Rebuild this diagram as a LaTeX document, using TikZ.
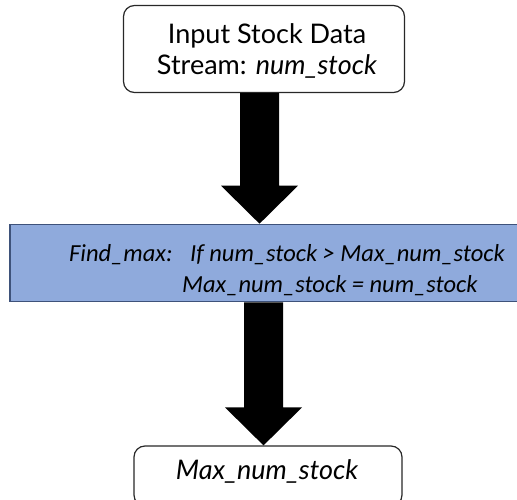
\documentclass[tikz,border=0pt]{standalone}
\usepackage{fontspec}
\setmainfont{Lato}
\newfontfamily\calib{Carlito}
\usetikzlibrary{calc}
\definecolor{bandfill}{RGB}{143,170,220}
\definecolor{bandline}{RGB}{62,82,122}
\definecolor{boxline}{RGB}{40,40,40}
\tikzset{
  roundbox/.style={draw=boxline, line width=1.2pt, rounded corners=11pt, fill=white, inner sep=0pt},
  bandbox/.style={draw=bandline, line width=1.6pt, fill=bandfill, inner sep=0pt},
  bandtext/.style={font=\calib\itshape\fontsize{24.5}{28}\selectfont, anchor=base west, inner sep=0pt},
}
% fat block arrow from the bottom of one node to the top of another
\newcommand{\blockarrow}[3]{%
  \fill[black] let \p1=(#1), \p2=(#2) in
    (#3pt-19.5pt,\y1) -- (#3pt+19.5pt,\y1) -- (#3pt+19.5pt,\y2+38pt)
    -- (#3pt+38.5pt,\y2+38pt) -- (#3pt,\y2) -- (#3pt-38.5pt,\y2+38pt)
    -- (#3pt-19.5pt,\y2+38pt) -- cycle;}
\begin{document}
\begin{tikzpicture}[x=1pt,y=-1pt]
\useasboundingbox (0,0) rectangle (517,500);
\clip (0,0) rectangle (517,500);

% input box
\node[roundbox, minimum width=281pt, minimum height=87pt] (input) at (264,49) {};
\node[font=\fontsize{27}{31}\selectfont, align=center, inner sep=0pt] (intext) at (267,51)
  {Input Stock Data\\Stream: \textit{num\_stock}};

% processing band
\node[bandbox, minimum width=520pt, minimum height=77pt] (band) at (270,263) {};
\node[bandtext] (lab) at (69,261) {Find\_max:};
\node[bandtext] (cond) at (190,261) {If num\_stock {>} Max\_num\_stock};
\node[bandtext] (assign) at (182,292) {Max\_num\_stock = num\_stock};

% output box
\node[roundbox, minimum width=268pt, minimum height=60pt] (output) at (268,476) {};
\node[font=\itshape\fontsize{27}{30}\selectfont, inner sep=0pt] (outtext) at (267,471) {Max\_num\_stock};

% connectors
\blockarrow{input.south}{band.north}{259.5}
\blockarrow{band.south}{output.north}{263.5}
\end{tikzpicture}
\end{document}
